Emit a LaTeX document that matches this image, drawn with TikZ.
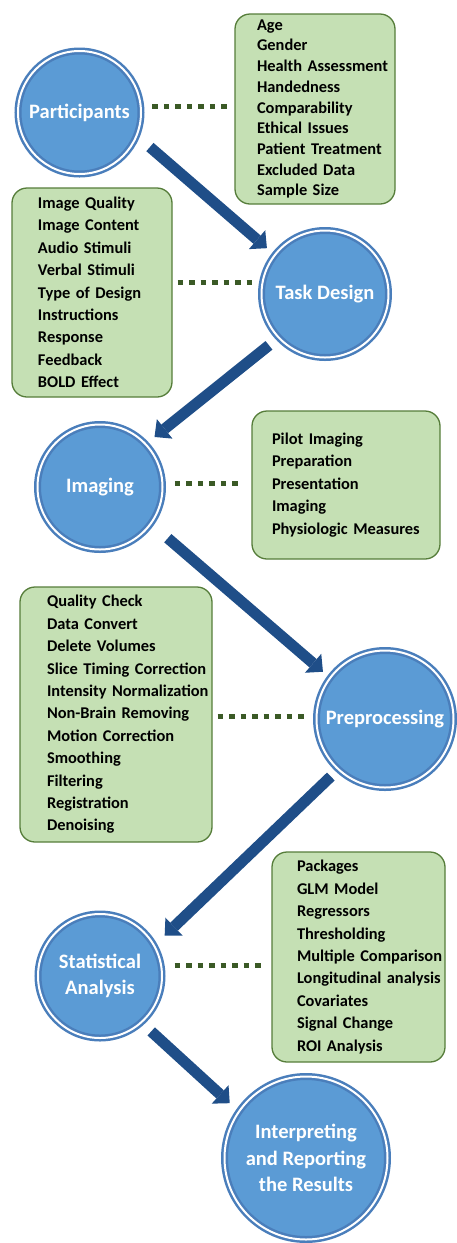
\documentclass[tikz,border=0pt]{standalone}
\usepackage{fontspec}
\setmainfont{Carlito}
\usepackage{tikz}
\usetikzlibrary{arrows.meta}

\definecolor{stagefill}{HTML}{5B9BD5}
\definecolor{stagering}{HTML}{4A7EBB}
\definecolor{flowblue}{HTML}{1F4E88}
\definecolor{listfill}{HTML}{C5E0B4}
\definecolor{listedge}{HTML}{567D3A}
\definecolor{dotgreen}{HTML}{3B5A26}

\begin{document}
\begin{tikzpicture}[x=1pt, y=-1pt]
  \tikzstyle{stage} = [
    circle, fill=stagefill, draw=stagering,
    line width     = 2.5pt,
    double         = white,
    double distance = 2pt,
    inner sep      = 0pt,
    outer sep      = 3.5pt,
    text = white, align = center,
    font = \fontsize{20.5}{26.5}\selectfont\bfseries
  ]
  \tikzstyle{listbox} = [
    draw=listedge, fill=listfill, line width=1.3pt,
    rounded corners = 15pt,
    inner xsep = 0pt, inner ysep = 0pt,
    align = left,
    font  = \fontsize{16.4}{22.4}\selectfont\bfseries
  ]
  \tikzstyle{flow}    = [draw=flowblue, line width=11pt,
                         -{Triangle[width=25pt, length=13pt, line width=0pt]}]
  \tikzstyle{dotline} = [draw=dotgreen, line width=5pt,
                         dash pattern=on 5.5pt off 6pt]

  \useasboundingbox (0,0) rectangle (457,1243);

  % stages
  \node [stage, minimum size=123pt] at (79.5,112.5) (part)   {Participants};
  \node [stage, minimum size=127pt] at (325,294)    (task)   {Task Design};
  \node [stage, minimum size=125pt] at (100,487)    (imag)   {Imaging};
  \node [stage, minimum size=137pt] at (385,719)    (prep)   {Preprocessing};
  \node [stage, minimum size=124pt] at (100,976)    (stat)   {Statistical\\Analysis};
  \node [stage, minimum size=163pt] at (306,1158)   (interp) {Interpreting\\and Reporting\\the Results};

  % lists
  \node [listbox, text width=160pt, minimum height=190pt,
         font=\fontsize{16.4}{20.7}\selectfont\bfseries,
         execute at begin node={\leftskip=22pt\relax}] at (315,109) (abox)
        {Age\\Gender\\Health Assessment\\Handedness\\Comparability\\Ethical Issues\\Patient Treatment\\Excluded Data\\Sample Size};
  \node [listbox, text width=160pt, minimum height=209pt,
         execute at begin node={\leftskip=26pt\relax}] at (92,292.5) (bbox)
        {Image Quality\\Image Content\\Audio Stimuli\\Verbal Stimuli\\Type of Design\\Instructions\\Response\\Feedback\\BOLD Effect};
  \node [listbox, text width=188pt, minimum height=148pt,
         execute at begin node={\leftskip=20pt\relax}] at (346,485) (cbox)
        {Pilot Imaging\\Preparation\\Presentation\\Imaging\\Physiologic Measures};
  \node [listbox, text width=192pt, minimum height=255pt,
         execute at begin node={\leftskip=27pt\relax}] at (116,714.5) (dbox)
        {Quality Check\\Data Convert\\Delete Volumes\\Slice Timing Correction\\Intensity Normalization\\Non-Brain Removing\\Motion Correction\\Smoothing\\Filtering\\Registration\\Denoising};
  \node [listbox, text width=173pt, minimum height=210pt,
         execute at begin node={\leftskip=25pt\relax}] at (358.5,957) (ebox)
        {Packages\\GLM Model\\Regressors\\Thresholding\\Multiple Comparison\\Longitudinal analysis\\Covariates\\Signal Change\\ROI Analysis};

  % dotted links
  \path [dotline, shorten <=8pt,  shorten >=3pt] (part.5) -- (part.5 -| abox.west);
  \path [dotline, shorten <=5pt,  shorten >=2pt] (bbox.east |- task.170) -- (task.170);
  \path [dotline, shorten <=9pt,  shorten >=9pt] (imag.3) -- (imag.3 -| cbox.west);
  \path [dotline, shorten <=5pt,  shorten >=5pt] (dbox.east |- prep.178) -- (prep.178);
  \path [dotline, shorten <=10pt, shorten >=5pt] (stat.9) -- (stat.9 -| ebox.west);

  % flow
  \path [flow, shorten <=14pt, shorten >=7pt]  (part.-23)  -- (task.142);
  \path [flow, shorten <=9pt,  shorten >=8pt]  (task.-137) -- (imag.43);
  \path [flow, shorten <=19pt, shorten >=6pt]  (imag.-36)  -- (prep.143);
  \path [flow, shorten <=7pt,  shorten >=11pt] (prep.-133) -- (stat.30);
  \path [flow, shorten <=10pt, shorten >=9pt]  (stat.-48)  -- (interp.145);
\end{tikzpicture}
\end{document}
